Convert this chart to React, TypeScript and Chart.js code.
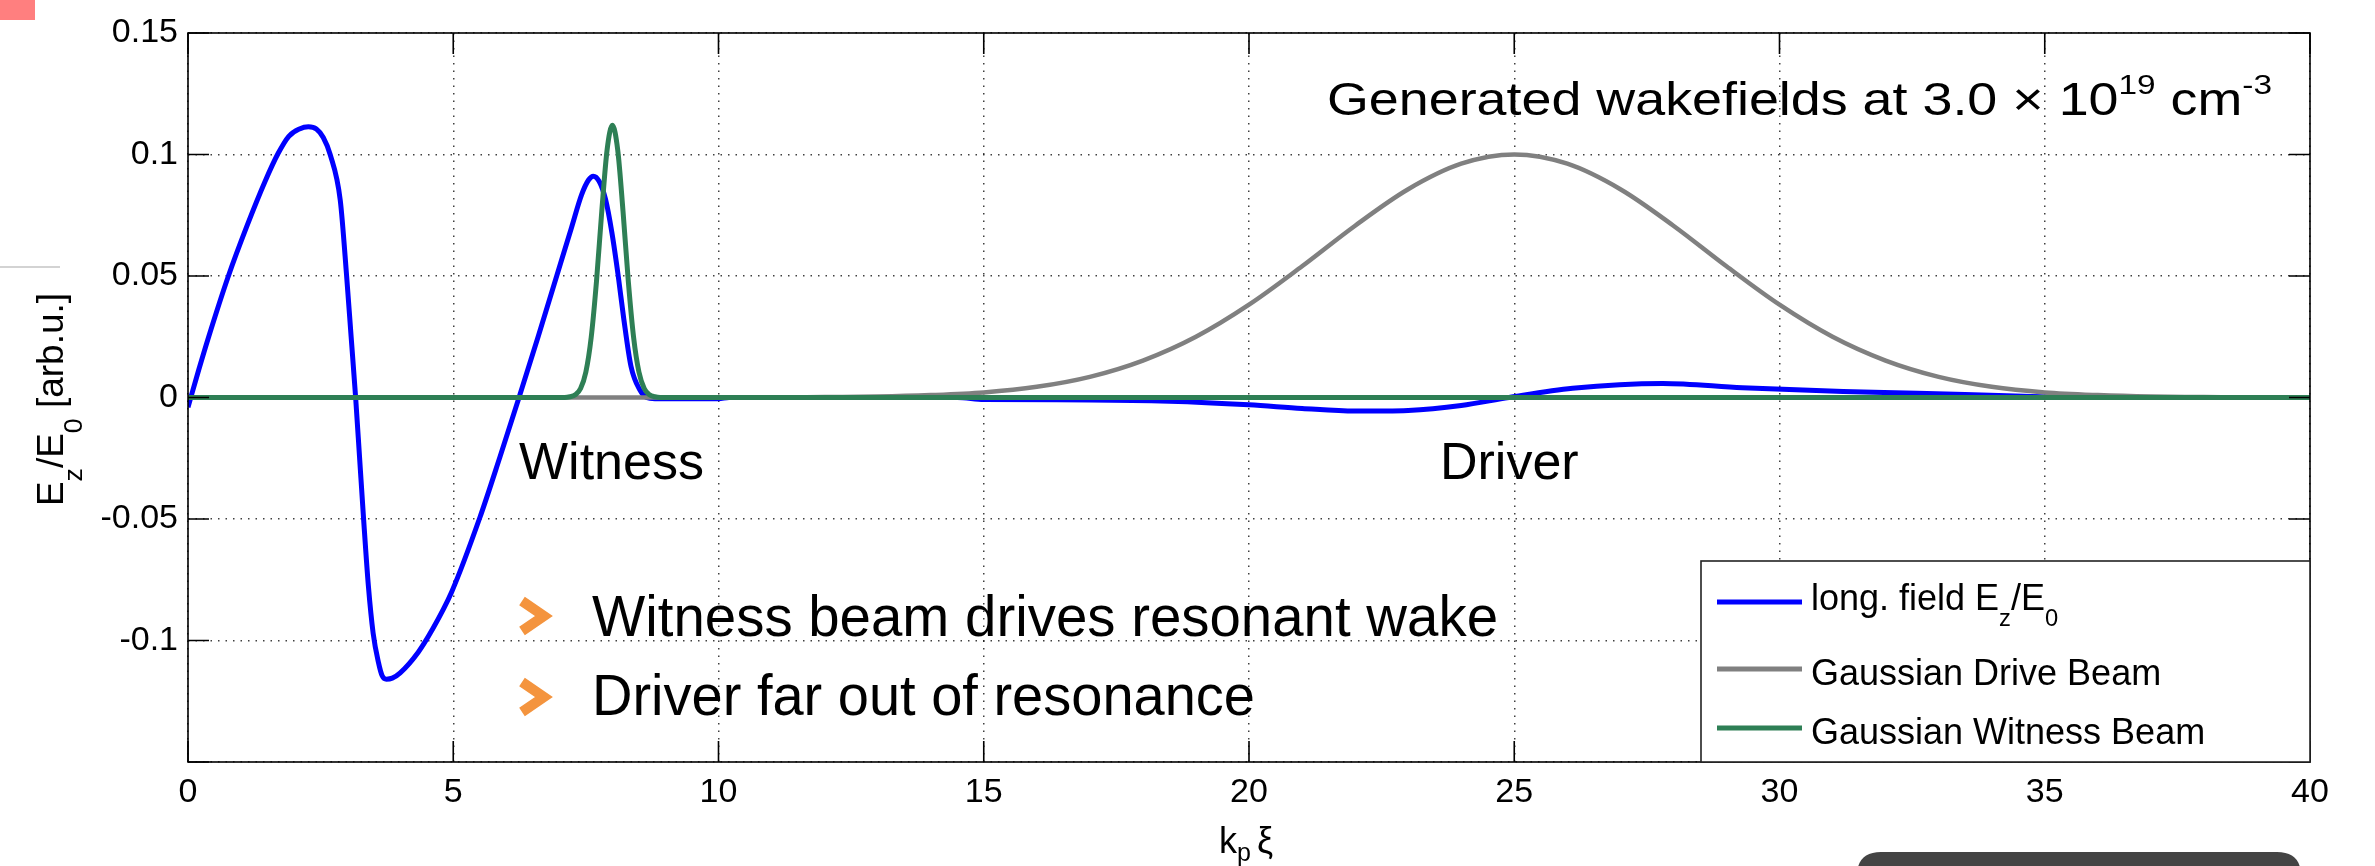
import React, { useEffect, useRef } from 'react';
import { Chart, registerables } from 'chart.js';

Chart.register(...registerables);

// ---------- data ----------
const xTicks = [0, 5, 10, 15, 20, 25, 30, 35, 40];
const xTickLabels = ['0', '5', '10', '15', '20', '25', '30', '35', '40'];
const yTicks = [-0.15, -0.1, -0.05, 0, 0.05, 0.1, 0.15];
const yTickLabels = ['', '-0.1', '-0.05', '0', '0.05', '0.1', '0.15'];

const seriesNames = ['long. field', 'Gaussian Drive Beam', 'Gaussian Witness Beam'];
const seriesColors = ['#0000ff', '#808080', '#2e7f55'];

// longitudinal field Ez/E0
const fieldX = [
  0, 0.2, 0.38, 0.76, 1.11, 1.45, 1.7, 1.9, 2.1, 2.27, 2.42, 2.55, 2.68, 2.87, 2.99, 3.075, 3.16, 3.235,
  3.31, 3.4, 3.49, 3.59, 3.66, 3.74, 3.85, 4.0, 4.34, 4.6, 4.97, 5.5, 5.88, 6.24, 6.6, 6.95, 7.23,
  7.42, 7.55, 7.64, 7.75, 7.87, 7.99, 8.11, 8.21, 8.35, 8.52, 8.64, 8.8, 10.0, 10.2, 14.5, 15, 17, 18.5,
  20, 21, 22, 23, 24, 24.9, 26.1, 27.8, 29.3, 31.2, 32.6, 34.6, 36, 40,
];
const fieldY = [
  -0.004, 0.0112, 0.0243, 0.0499, 0.0705, 0.0888, 0.1005, 0.1075, 0.1105, 0.1114, 0.1105, 0.107, 0.1,
  0.0812, 0.05, 0.025, 0, -0.025, -0.05, -0.0775, -0.097, -0.109, -0.1145, -0.1159, -0.1155, -0.1133,
  -0.1048, -0.0957, -0.08, -0.0495, -0.0245, 0, 0.025, 0.05, 0.07, 0.0835, 0.0895, 0.0911, 0.089,
  0.0816, 0.0679, 0.05, 0.0331, 0.0129, 0.003, 0, -0.0005, -0.0005, 0, 0, -0.0008, -0.001, -0.0015,
  -0.003, -0.0045, -0.0056, -0.0053, -0.0033, 0, 0.0038, 0.0058, 0.004, 0.0025, 0.0018, 0.0005, 0, 0,
];

// Gaussian drive beam
const driveX = [
  0, 11, 12, 13, 14, 15, 16, 17, 18, 19, 20, 21, 22, 23, 24, 25, 26, 27, 28, 29, 30, 31, 32, 33, 34, 35,
  36, 37, 38, 39, 40,
];
const driveY = [
  0, 0, 0.0002, 0.0004, 0.001, 0.0021, 0.0044, 0.0085, 0.0152, 0.025, 0.0382, 0.054, 0.0707, 0.0857,
  0.0962, 0.1, 0.0962, 0.0857, 0.0707, 0.054, 0.0382, 0.025, 0.0152, 0.0085, 0.0044, 0.0021, 0.001,
  0.0004, 0.0002, 0, 0,
];

// Gaussian witness beam
const witnessX = [
  0, 7.1, 7.2, 7.3, 7.4, 7.5, 7.6, 7.7, 7.8, 7.9, 8.0, 8.1, 8.2, 8.3, 8.4, 8.5, 8.6, 8.7, 8.8, 8.9, 40,
];
const witnessY = [
  0, 0, 0.0003, 0.0011, 0.0037, 0.0105, 0.0247, 0.0478, 0.0767, 0.1019, 0.112, 0.1019, 0.0767, 0.0478,
  0.0247, 0.0105, 0.0037, 0.0011, 0.0003, 0, 0,
];

// ---------- helpers ----------
const FAMILY = '"Liberation Sans", Arial, Helvetica, sans-serif';

type Seg = { t: string; s?: number; dy?: number };

function measureRich(ctx: CanvasRenderingContext2D, segs: Seg[], size: number) {
  let w = 0;
  for (const g of segs) {
    ctx.font = `${size * (g.s ?? 1)}px ${FAMILY}`;
    w += ctx.measureText(g.t).width;
  }
  return w;
}

function drawRich(
  ctx: CanvasRenderingContext2D,
  segs: Seg[],
  x: number,
  y: number,
  size: number,
  targetWidth?: number,
) {
  const w = measureRich(ctx, segs, size);
  const sx = targetWidth ? targetWidth / w : 1;
  ctx.save();
  ctx.translate(x, y);
  ctx.scale(sx, 1);
  ctx.textBaseline = 'alphabetic';
  ctx.textAlign = 'left';
  let cx = 0;
  for (const g of segs) {
    ctx.font = `${size * (g.s ?? 1)}px ${FAMILY}`;
    ctx.fillText(g.t, cx, g.dy ?? 0);
    cx += ctx.measureText(g.t).width;
  }
  ctx.restore();
}

function roundRectPath(ctx: CanvasRenderingContext2D, x: number, y: number, w: number, h: number, r: number) {
  ctx.beginPath();
  ctx.moveTo(x + r, y);
  ctx.lineTo(x + w - r, y);
  ctx.quadraticCurveTo(x + w, y, x + w, y + r);
  ctx.lineTo(x + w, y + h);
  ctx.lineTo(x, y + h);
  ctx.lineTo(x, y + r);
  ctx.quadraticCurveTo(x, y, x + r, y);
  ctx.closePath();
}

const overlayPlugin = {
  id: 'overlay',
  beforeDraw(chart: any) {
    const ctx = chart.ctx as CanvasRenderingContext2D;
    ctx.save();
    ctx.fillStyle = '#ffffff';
    ctx.fillRect(0, 0, chart.width, chart.height);
    ctx.restore();
  },
  afterDraw(chart: any) {
    const ctx = chart.ctx as CanvasRenderingContext2D;
    const a = chart.chartArea;
    const xs = chart.scales.x;
    const ys = chart.scales.y;
    ctx.save();

    // frame and inward ticks
    ctx.strokeStyle = '#000';
    ctx.lineWidth = 1.6;
    ctx.strokeRect(a.left, a.top, a.right - a.left, a.bottom - a.top);
    const tl = 21;
    ctx.beginPath();
    for (const v of xTicks) {
      const px = xs.getPixelForValue(v);
      ctx.moveTo(px, a.bottom);
      ctx.lineTo(px, a.bottom - tl);
      ctx.moveTo(px, a.top);
      ctx.lineTo(px, a.top + tl);
    }
    for (const v of yTicks) {
      const py = ys.getPixelForValue(v);
      ctx.moveTo(a.left, py);
      ctx.lineTo(a.left + tl, py);
      ctx.moveTo(a.right, py);
      ctx.lineTo(a.right - tl, py);
    }
    ctx.stroke();

    ctx.fillStyle = '#000';

    // y-axis title (rotated)
    {
      const segs: Seg[] = [
        { t: 'E' },
        { t: 'z', s: 0.72, dy: 19 },
        { t: '/E' },
        { t: '0', s: 0.72, dy: 19 },
        { t: ' [arb.u.]' },
      ];
      const size = 37;
      const w = measureRich(ctx, segs, size);
      ctx.save();
      ctx.translate(63, (a.top + a.bottom) / 2 + 2);
      ctx.rotate(-Math.PI / 2);
      drawRich(ctx, segs, -w / 2, 0, size);
      ctx.restore();
    }

    // x-axis title
    {
      const cx = (a.left + a.right) / 2;
      ctx.font = `36px ${FAMILY}`;
      ctx.textAlign = 'left';
      ctx.fillText('k', cx - 30, 853);
      ctx.font = `25px ${FAMILY}`;
      ctx.fillText('p', cx - 12, 861);
      ctx.font = `36px ${FAMILY}`;
      ctx.fillText('ξ', cx + 8, 853);
    }

    // title annotation
    drawRich(
      ctx,
      [
        { t: 'Generated wakefields at 3.0 × 10' },
        { t: '19', s: 0.62, dy: -21 },
        { t: ' cm' },
        { t: '-3', s: 0.62, dy: -21 },
      ],
      1327,
      115,
      46,
      945,
    );

    // beam labels
    ctx.font = `52px ${FAMILY}`;
    ctx.textAlign = 'left';
    ctx.fillText('Witness', 519, 479);
    ctx.fillText('Driver', 1440, 479);

    // bullets
    const drawChevron = (cy: number) => {
      ctx.save();
      ctx.strokeStyle = '#f4943e';
      ctx.lineWidth = 10;
      ctx.lineJoin = 'miter';
      ctx.miterLimit = 10;
      ctx.lineCap = 'butt';
      ctx.beginPath();
      ctx.moveTo(522, cy - 15);
      ctx.lineTo(544, cy);
      ctx.lineTo(522, cy + 15);
      ctx.stroke();
      ctx.restore();
    };
    drawChevron(616);
    drawChevron(697);
    ctx.fillStyle = '#000';
    drawRich(ctx, [{ t: 'Witness beam drives resonant wake' }], 592, 636, 57, 906);
    drawRich(ctx, [{ t: 'Driver far out of resonance' }], 592, 715, 57, 663);

    // legend
    {
      const lx = 1701;
      const ly = 561;
      const lw = a.right - lx;
      const lh = a.bottom - ly;
      ctx.fillStyle = '#fff';
      ctx.fillRect(lx, ly, lw, lh);
      ctx.strokeStyle = '#222';
      ctx.lineWidth = 1.6;
      ctx.strokeRect(lx, ly, lw, lh);
      const rows = [602, 669, 728];
      const texts: Seg[][] = [
        [{ t: 'long. field E' }, { t: 'z', s: 0.66, dy: 16 }, { t: '/E' }, { t: '0', s: 0.66, dy: 16 }],
        [{ t: seriesNames[1] }],
        [{ t: seriesNames[2] }],
      ];
      rows.forEach((ry, i) => {
        ctx.strokeStyle = seriesColors[i];
        ctx.lineWidth = 5;
        ctx.lineCap = 'butt';
        ctx.beginPath();
        ctx.moveTo(1717, ry);
        ctx.lineTo(1802, ry);
        ctx.stroke();
        ctx.fillStyle = '#000';
        drawRich(ctx, texts[i], 1811, ry + (i === 0 ? 8 : 16), 36);
      });
    }

    // slide decorations
    ctx.fillStyle = '#ff7f7f';
    ctx.fillRect(0, 0, 35, 20);
    ctx.strokeStyle = '#c4c4c4';
    ctx.lineWidth = 1.5;
    ctx.beginPath();
    ctx.moveTo(0, 267);
    ctx.lineTo(60, 267);
    ctx.stroke();
    ctx.fillStyle = '#444444';
    roundRectPath(ctx, 1857, 852, 444, 40, 24);
    ctx.fill();

    ctx.restore();
  },
};

export default function App() {
  const ref = useRef<HTMLCanvasElement | null>(null);

  useEffect(() => {
    if (!ref.current) return;
    const mk = (xs: number[], ys: number[]) => xs.map((x, i) => ({ x, y: ys[i] }));
    const chart = new Chart(ref.current, {
      type: 'line',
      data: {
        datasets: [
          {
            label: seriesNames[0],
            data: mk(fieldX, fieldY),
            borderColor: seriesColors[0],
            borderWidth: 5,
            pointRadius: 0,
            cubicInterpolationMode: 'monotone',
            order: 3,
          },
          {
            label: seriesNames[1],
            data: mk(driveX, driveY),
            borderColor: seriesColors[1],
            borderWidth: 4.5,
            pointRadius: 0,
            cubicInterpolationMode: 'monotone',
            order: 2,
          },
          {
            label: seriesNames[2],
            data: mk(witnessX, witnessY),
            borderColor: seriesColors[2],
            borderWidth: 5,
            pointRadius: 0,
            cubicInterpolationMode: 'monotone',
            order: 1,
          },
        ],
      },
      options: {
        animation: false,
        responsive: false,
        devicePixelRatio: 1,
        layout: { padding: { top: 33, right: 65, left: 0, bottom: 0 } },
        plugins: { legend: { display: false }, tooltip: { enabled: false } },
        events: [],
        scales: {
          x: {
            type: 'linear',
            min: 0,
            max: 40,
            afterBuildTicks: (s: any) => {
              s.ticks = xTicks.map((v) => ({ value: v }));
            },
            afterFit: (s: any) => {
              s.height = 104;
            },
            ticks: {
              autoSkip: false,
              maxRotation: 0,
              padding: 10,
              color: '#000',
              font: { family: FAMILY, size: 34 },
              callback: (_v: any, i: number) => xTickLabels[i],
            },
            grid: {
              color: 'rgba(0,0,0,0.75)',
              lineWidth: 1.5,
              drawTicks: false,
            },
            border: { display: false, dash: [1.5, 6] },
          },
          y: {
            type: 'linear',
            min: -0.15,
            max: 0.15,
            afterBuildTicks: (s: any) => {
              s.ticks = yTicks.map((v) => ({ value: v }));
            },
            afterFit: (s: any) => {
              s.width = 188;
            },
            ticks: {
              autoSkip: false,
              padding: 10,
              color: '#000',
              font: { family: FAMILY, size: 34 },
              callback: (_v: any, i: number) => yTickLabels[i],
            },
            grid: {
              color: 'rgba(0,0,0,0.75)',
              lineWidth: 1.5,
              drawTicks: false,
            },
            border: { display: false, dash: [1.5, 6] },
          },
        },
      } as any,
      plugins: [overlayPlugin],
    });
    return () => chart.destroy();
  }, []);

  return (
    <div style={{ position: 'fixed', left: 0, top: 0, width: 2375, height: 866, background: '#fff' }}>
      <canvas ref={ref} width={2375} height={866} style={{ width: 2375, height: 866, display: 'block' }} />
    </div>
  );
}
